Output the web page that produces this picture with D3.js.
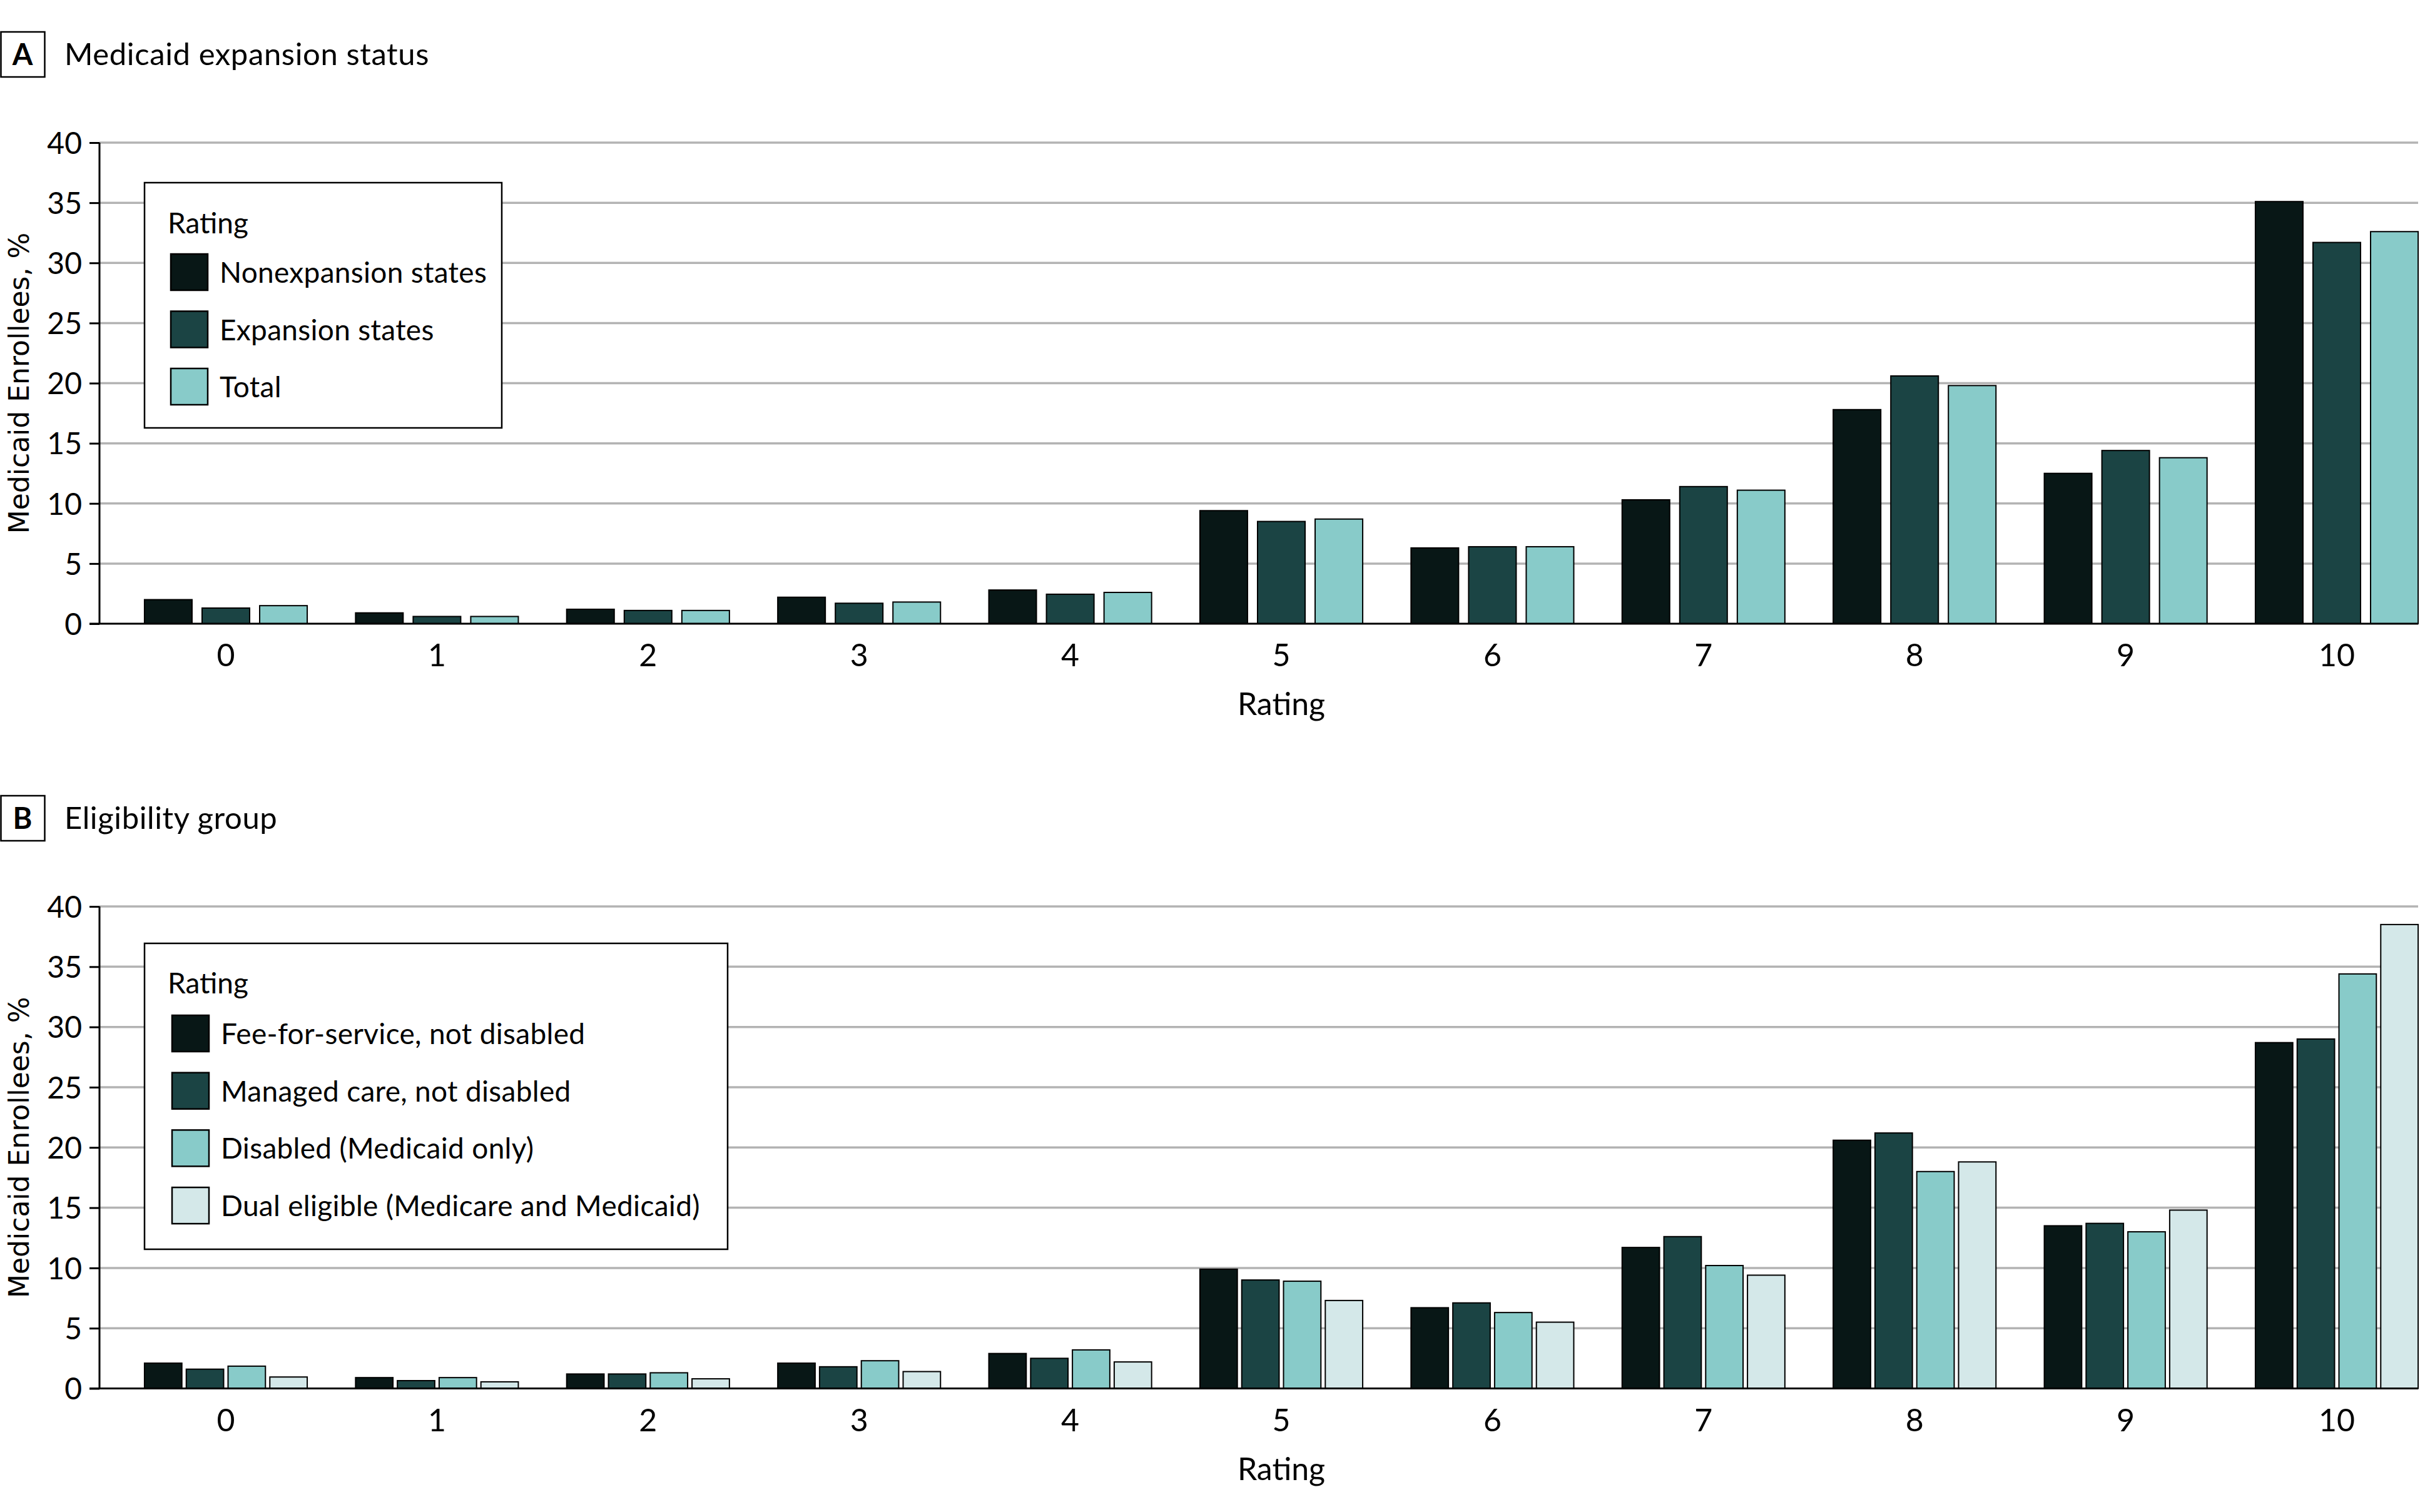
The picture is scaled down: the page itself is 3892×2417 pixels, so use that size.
<!DOCTYPE html>
<html>
<head>
<meta charset="utf-8">
<script src="https://cdn.jsdelivr.net/npm/d3@7"></script>
<style>
  html, body { margin: 0; padding: 0; background: #fff; }
  svg { display: block; }
</style>
</head>
<body>
<svg id="chart" width="3892" height="2417"></svg>
<script>
// ---------- DATA ----------
const ratings = ["0","1","2","3","4","5","6","7","8","9","10"];
const yTicks = [0,5,10,15,20,25,30,35,40];

// Panel A: Medicaid expansion status
const seriesA = ["Nonexpansion states", "Expansion states", "Total"];
const nonexpansion = [2.0, 0.9, 1.2, 2.2, 2.8, 9.4, 6.3, 10.3, 17.8, 12.5, 35.1];
const expansion    = [1.3, 0.6, 1.1, 1.7, 2.45, 8.5, 6.4, 11.4, 20.6, 14.4, 31.7];
const totalA       = [1.5, 0.6, 1.1, 1.8, 2.6, 8.7, 6.4, 11.1, 19.8, 13.8, 32.6];

// Panel B: Eligibility group
const seriesB = ["Fee-for-service, not disabled", "Managed care, not disabled",
                 "Disabled (Medicaid only)", "Dual eligible (Medicare and Medicaid)"];
const feeForService = [2.1, 0.9, 1.2, 2.1, 2.9, 9.9, 6.7, 11.7, 20.6, 13.5, 28.7];
const managedCare   = [1.6, 0.65, 1.2, 1.8, 2.5, 9.0, 7.1, 12.6, 21.2, 13.7, 29.0];
const disabled      = [1.85, 0.9, 1.3, 2.3, 3.2, 8.9, 6.3, 10.2, 18.0, 13.0, 34.4];
const dualEligible  = [0.95, 0.55, 0.8, 1.4, 2.2, 7.3, 5.5, 9.4, 18.8, 14.8, 38.5];

const colors = ["#081716", "#1b4444", "#88cbc9", "#d4e8e9"];

// ---------- DRAW ----------
const svg = d3.select("#chart");
const FONT = "Lato, 'Open Sans', sans-serif";

function drawPanel(cfg) {
  const g = svg.append("g");
  const plotLeft = 159, plotRight = 3865;

  const x = d3.scaleBand().domain(ratings).range([192.3, 3903.7])
              .paddingInner(0.229).paddingOuter(0.1145);
  const xs = d3.scaleBand().domain(cfg.series).range([0, x.bandwidth()])
               .paddingInner(cfg.innerPad);
  const y = d3.scaleLinear().domain([0, 40]).range([cfg.y0, cfg.y40]);

  // panel letter box + title
  g.append("rect").attr("x", 1.5).attr("y", cfg.titleTop)
    .attr("width", 70).attr("height", 72)
    .attr("fill", "#fff").attr("stroke", "#000").attr("stroke-width", 2.5);
  g.append("text").attr("x", 36).attr("y", cfg.titleTop + 53)
    .attr("text-anchor", "middle").attr("font-family", FONT)
    .attr("font-weight", "bold").attr("font-size", 47).text(cfg.letter);
  g.append("text").attr("x", 103).attr("y", cfg.titleTop + 53)
    .attr("font-family", FONT).attr("font-size", 49).attr("letter-spacing", 0.6)
    .text(cfg.title);

  // gridlines
  g.append("g").selectAll("line").data(yTicks.filter(d => d > 0)).join("line")
    .attr("x1", plotLeft).attr("x2", plotRight)
    .attr("y1", d => y(d)).attr("y2", d => y(d))
    .attr("stroke", "#b3b3b3").attr("stroke-width", 3.5);

  // bars
  const rows = ratings.map((r, i) => ({ r, vals: cfg.series.map((s, j) => ({ s, j, v: cfg.values[j][i] })) }));
  g.append("g").selectAll("g").data(rows).join("g")
    .attr("transform", d => `translate(${x(d.r)},0)`)
    .selectAll("rect").data(d => d.vals).join("rect")
      .attr("x", d => xs(d.s)).attr("width", xs.bandwidth())
      .attr("y", d => y(d.v)).attr("height", d => y(0) - y(d.v))
      .attr("fill", d => colors[d.j]).attr("stroke", "#000").attr("stroke-width", 2);

  // y axis
  const yAxis = d3.axisLeft(y).tickValues(yTicks).tickSize(16).tickPadding(12);
  const ya = g.append("g").attr("transform", `translate(${plotLeft},0)`).call(yAxis);
  ya.select(".domain").attr("stroke", "#000").attr("stroke-width", 3)
    .attr("d", `M0,${y(40)}V${y(0)}`);
  ya.selectAll(".tick line").attr("stroke", "#000").attr("stroke-width", 3);
  ya.selectAll(".tick text").attr("font-family", FONT).attr("font-size", 48)
    .attr("fill", "#000").attr("dy", "0.36em");

  // x axis
  const xAxis = d3.axisBottom(x).tickSize(0).tickPadding(32);
  const xa = g.append("g").attr("transform", `translate(0,${y(0)})`).call(xAxis);
  xa.select(".domain").attr("stroke", "#000").attr("stroke-width", 3)
    .attr("d", `M${plotLeft - 16},0H${plotRight}`);
  xa.selectAll(".tick text").attr("font-family", FONT).attr("font-size", 50)
    .attr("fill", "#000").attr("dy", "0.72em");

  // x axis title
  g.append("text").attr("x", (x.range()[0] + x.range()[1]) / 2).attr("y", y(0) + 146)
    .attr("text-anchor", "middle").attr("font-family", FONT).attr("font-size", 50)
    .text("Rating");

  // y axis title
  g.append("text")
    .attr("transform", `translate(46,${(y(0) + y(40)) / 2}) rotate(-90)`)
    .attr("text-anchor", "middle").attr("font-family", "'DejaVu Sans', sans-serif")
    .attr("font-size", 44).text("Medicaid Enrollees, %");

  // legend
  const L = cfg.legend;
  const lg = g.append("g");
  lg.append("rect").attr("x", L.x).attr("y", L.y).attr("width", L.w).attr("height", L.h)
    .attr("fill", "#fff").attr("stroke", "#000").attr("stroke-width", 2.5);
  lg.append("text").attr("x", L.x + 37).attr("y", L.titleBase)
    .attr("font-family", FONT).attr("font-size", 46).text("Rating");
  const items = lg.selectAll("g.item").data(cfg.series).join("g").attr("class", "item")
    .attr("transform", (d, i) => `translate(${L.x + L.swX},${L.firstTop + i * L.step})`);
  items.append("rect").attr("width", 59).attr("height", 58)
    .attr("fill", (d, i) => colors[i]).attr("stroke", "#000").attr("stroke-width", 2.5);
  items.append("text").attr("x", 78).attr("y", 46)
    .attr("font-family", FONT).attr("font-size", 46).attr("letter-spacing", 0.3).text(d => d);
}

drawPanel({
  letter: "A", title: "Medicaid expansion status", titleTop: 51,
  series: seriesA, values: [nonexpansion, expansion, totalA],
  innerPad: 0.174, y0: 997, y40: 228,
  legend: { x: 231, y: 292, w: 571, h: 392, titleBase: 373, swX: 42, firstTop: 406, step: 91.5 }
});

drawPanel({
  letter: "B", title: "Eligibility group", titleTop: 1272,
  series: seriesB, values: [feeForService, managedCare, disabled, dualEligible],
  innerPad: 0.105, y0: 2219.5, y40: 1449,
  legend: { x: 231, y: 1508, w: 932, h: 489, titleBase: 1588, swX: 44, firstTop: 1623, step: 91.7 }
});
</script>
</body>
</html>
